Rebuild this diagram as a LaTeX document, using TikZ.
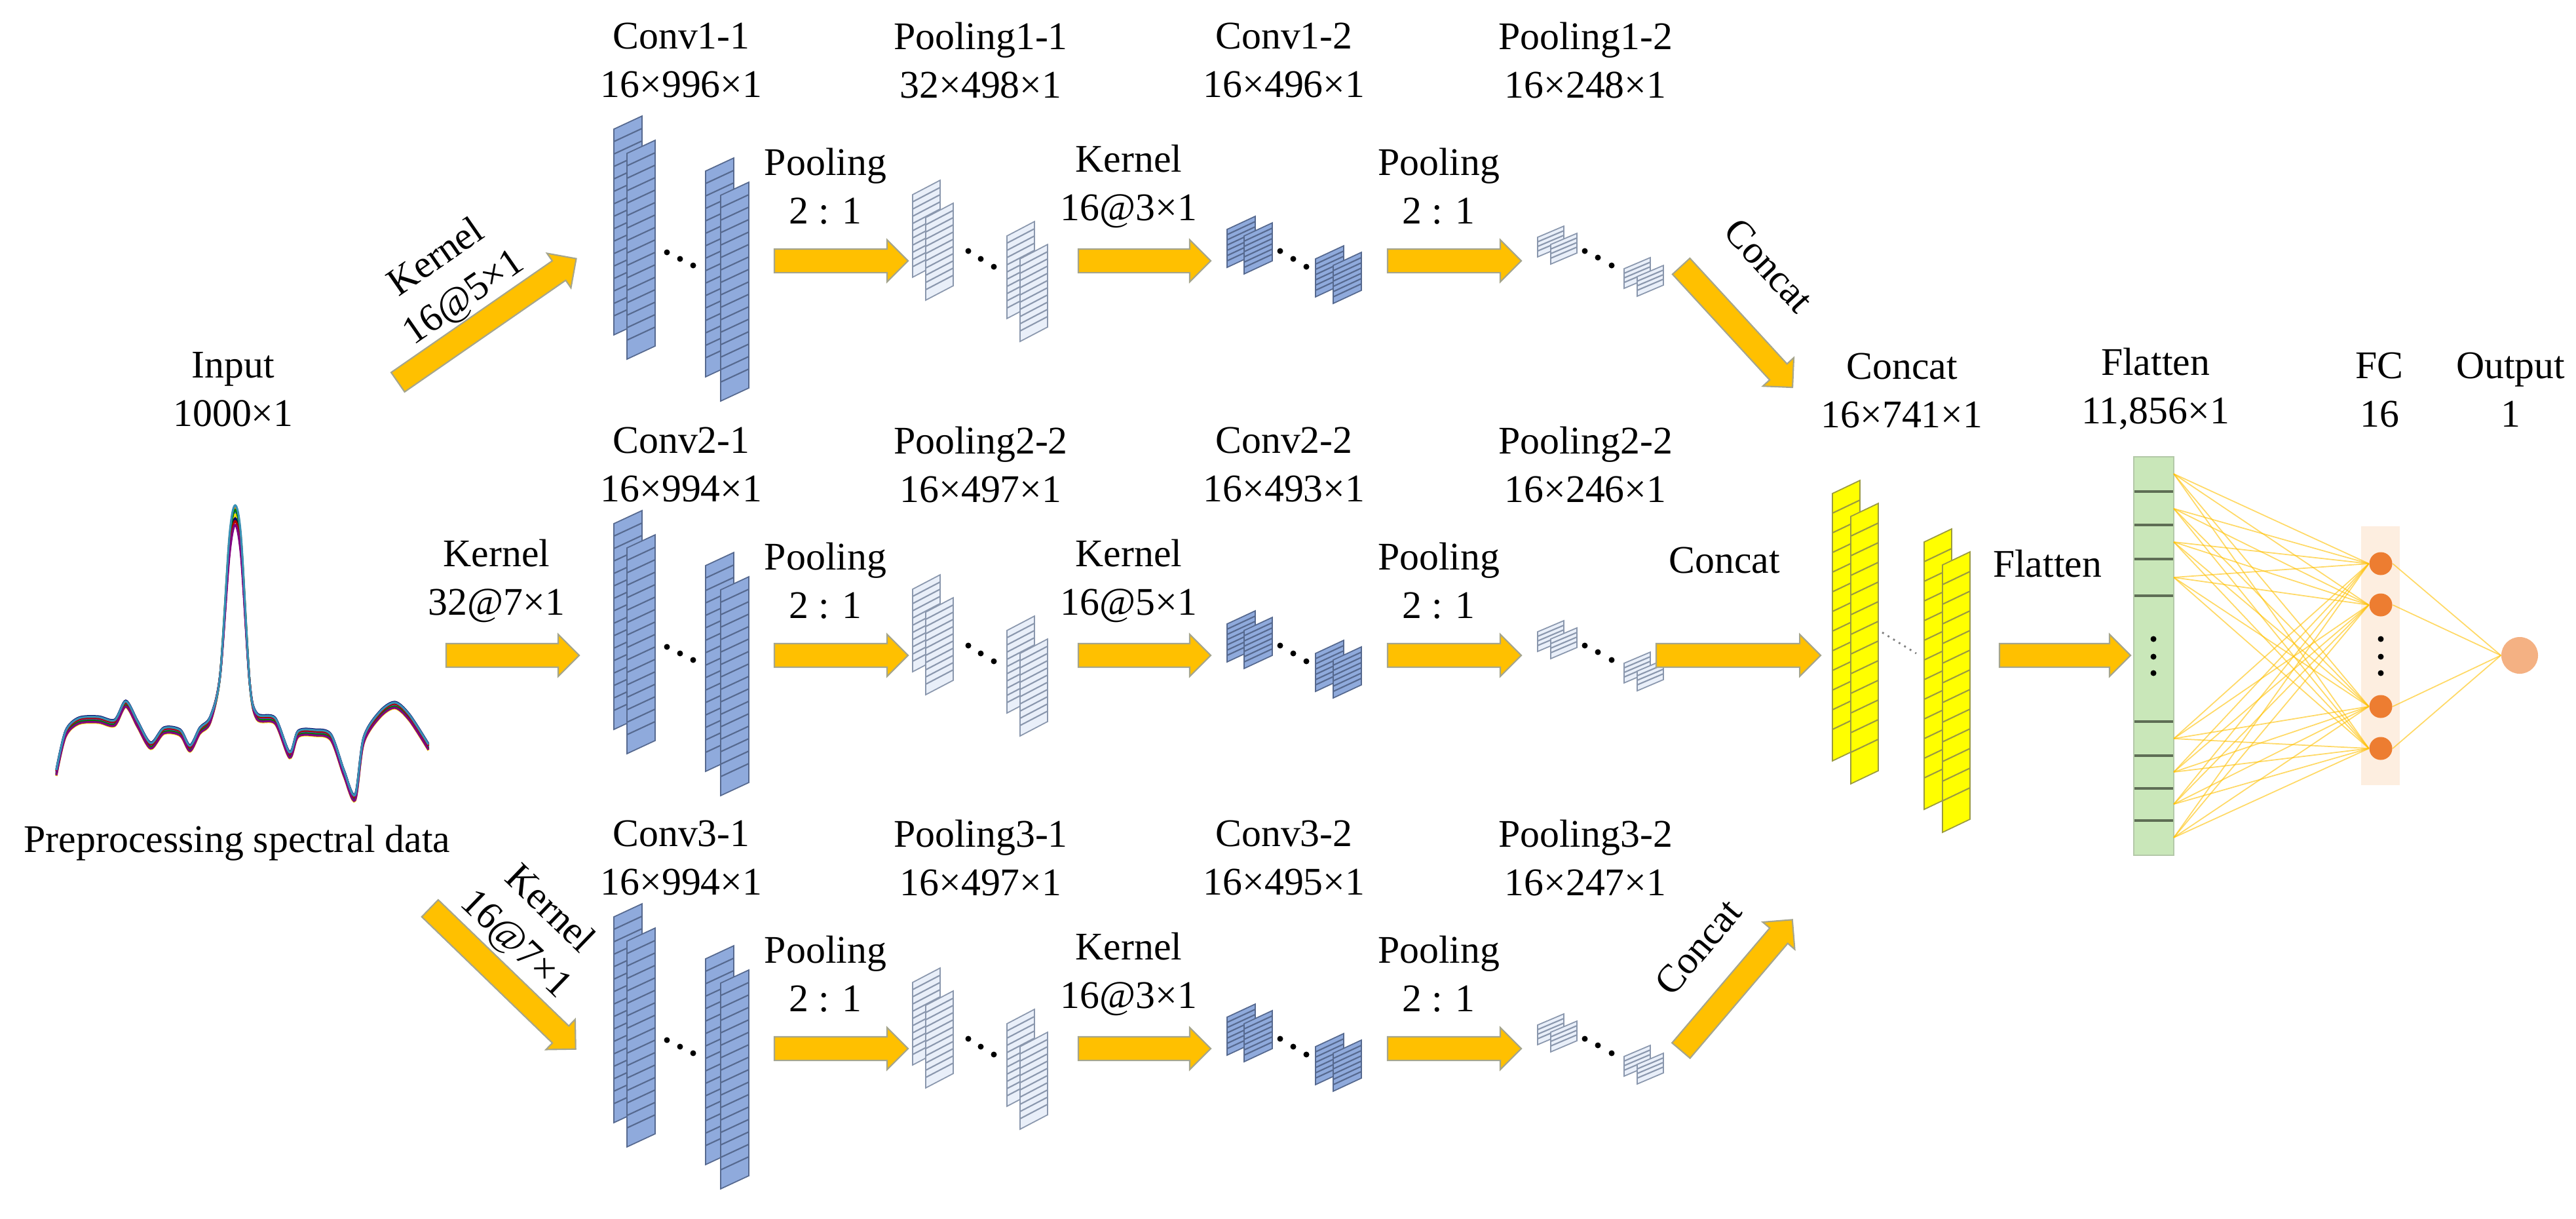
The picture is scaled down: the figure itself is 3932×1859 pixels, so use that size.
\documentclass[tikz,border=0pt]{standalone}
\usepackage{fontspec}
\setmainfont{Liberation Serif}
\usetikzlibrary{shapes.arrows,calc}
\definecolor{convfill}{HTML}{8FAADC}
\definecolor{convline}{HTML}{56698F}
\definecolor{poolfill}{HTML}{E9EFF9}
\definecolor{poolline}{HTML}{8A97AD}
\definecolor{arrowfill}{HTML}{FFC000}
\definecolor{arrowline}{HTML}{A5A58C}
\definecolor{catfill}{HTML}{FFFF00}
\definecolor{catline}{HTML}{9A9A40}
\definecolor{flatfill}{HTML}{C9E7B9}
\definecolor{flatline}{HTML}{5E6E55}
\definecolor{fcbg}{HTML}{FDEEE0}
\definecolor{fcnode}{HTML}{ED7D31}
\definecolor{outnode}{HTML}{F4B183}
\newcommand\slab[8]{%
  \filldraw[fill=#6,draw=#7,line width=0.5pt] (#1,#2+#5) -- (#1+#3,#2) -- (#1+#3,#2+#4) -- (#1,#2+#4+#5) -- cycle;
  \pgfmathtruncatemacro\nst{#4/#8-1}%
  \foreach \k in {1,...,\nst} \draw[#7,line width=0.6pt] (#1,#2+#5+\k*#8) -- (#1+#3,#2+\k*#8);
}
\newcommand\threedots[6]{%
  \fill (#1,#2) circle (4.5); \fill (#3,#4) circle (4.5); \fill (#5,#6) circle (4.5);
}
\newcommand\featrow[1]{%
  \slab{937}{#1-221}{43}{314}{20}{convfill}{convline}{19}
  \slab{957}{#1-184}{43}{314}{20}{convfill}{convline}{19}
  \slab{1077}{#1-157}{43}{314}{20}{convfill}{convline}{19}
  \slab{1100}{#1-120}{43}{314}{20}{convfill}{convline}{19}
  \threedots{1018}{#1-13}{1038}{#1-3}{1058}{#1+7}
  \slab{1393}{#1-123}{42}{126}{22}{poolfill}{poolline}{11}
  \slab{1413}{#1-88}{42}{126}{22}{poolfill}{poolline}{11}
  \slab{1537}{#1-60}{42}{126}{22}{poolfill}{poolline}{11}
  \slab{1557}{#1-25}{42}{126}{22}{poolfill}{poolline}{11}
  \threedots{1478}{#1-15}{1497}{#1-3}{1517}{#1+9}
  \slab{1873}{#1-68}{43}{58}{20}{convfill}{convline}{8}
  \slab{1899}{#1-58}{43}{58}{20}{convfill}{convline}{8}
  \slab{2008}{#1-23}{43}{58}{20}{convfill}{convline}{8}
  \slab{2035}{#1-13}{43}{58}{20}{convfill}{convline}{8}
  \threedots{1954}{#1-15}{1974}{#1-3}{1994}{#1+9}
  \slab{2347}{#1-53}{40}{30}{17}{poolfill}{poolline}{7}
  \slab{2367}{#1-42}{40}{30}{17}{poolfill}{poolline}{7}
  \slab{2479}{#1-5}{40}{30}{17}{poolfill}{poolline}{7}
  \slab{2499}{#1+7}{40}{30}{17}{poolfill}{poolline}{7}
  \threedots{2419}{#1-15}{2439}{#1-5}{2460}{#1+7}
}
\tikzset{
  barrow/.style={single arrow, draw=arrowline, fill=arrowfill, line width=0.6pt,
    inner xsep=0pt, inner ysep=0.17cm, single arrow head extend=0.14cm,
    single arrow tip angle=90, minimum height=#1, outer sep=0pt},
  lab/.style={font=\fontsize{17}{21}\selectfont, inner sep=0pt, align=center},
  conn/.style={arrowfill, opacity=0.6, line width=0.5pt},
  fcn/.style={circle, fill=fcnode, minimum size=0.35cm, inner sep=0pt},
}
\begin{document}
\begin{tikzpicture}[x=0.01cm,y=-0.01cm]
\useasboundingbox (0,0) rectangle (3932,1859);
% spectrum
\foreach \c/\d/\p in {blue!70/0/0, orange/3/-6, gray/-3/8, yellow!80!orange/5/4, blue!40!black/-5/10, green!50!black/2/-3, red!70!black/-2/14, violet/4/20, cyan!70!black/-4/-10} {
 \draw[\c, line width=0.9pt] plot[smooth, tension=0.5] coordinates {
  (86,1179+\d) (100,1120+\d) (120,1100+\d) (150,1098+\d) (175,1103+\d) (192,1074+\d) (210,1105+\d) (230,1138+\d) (250,1115+\d) (275,1118+\d) (290,1142+\d) (305,1115+\d) (321,1098+\d) (336,1030) (350,830+\p) (359,781+\p) (368,830+\p) (381,1040) (392,1093+\d) (420,1100+\d) (442,1152+\d) (455,1120+\d) (480,1118+\d) (505,1125+\d) (525,1180+\d) (542,1217+\d) (555,1130+\d) (580,1090+\d) (603,1076+\d) (625,1095+\d) (654,1140+\d)};
}
\node[lab] (inp) at (356,594) {Input\\1000×1};
\node[lab] (pre) at (362,1286) {Preprocessing spectral data};
% feature maps
\featrow{398}
\featrow{1000}
\featrow{1600}
% concat block
\slab{2797}{733}{42}{408}{20}{catfill}{catline}{30}
\slab{2825}{768}{42}{408}{20}{catfill}{catline}{30}
\slab{2937}{807}{42}{408}{20}{catfill}{catline}{30}
\slab{2965}{842}{42}{408}{20}{catfill}{catline}{30}
\draw[gray, dotted, line width=0.8pt] (2873,965) -- (2925,997);
% flatten column
\node[draw=flatfill!70!gray, fill=flatfill, line width=0.5pt, minimum width=0.61cm, minimum height=6.08cm, inner sep=0pt] (flat) at (3287.5,1001) {};
\foreach \yy in {750,801,853,909,1101,1153,1203,1252}
  \draw[flatline, line width=1.2pt] (3258,\yy) -- (3317,\yy);
\threedots{3287}{975}{3287}{1002}{3287}{1027}
% FC
\node[fill=fcbg, minimum width=0.59cm, minimum height=3.95cm, inner sep=0pt] (fcbox) at (3633.5,1000.5) {};
\node[fcn] (f1) at (3634,860) {};
\node[fcn] (f2) at (3634,923) {};
\node[fcn] (f3) at (3634,1078) {};
\node[fcn] (f4) at (3634,1142) {};
\threedots{3634}{975}{3634}{1002}{3634}{1027}
\node[circle, fill=outnode, minimum size=0.56cm, inner sep=0pt] (out) at (3846,1000) {};
\foreach \i/\yy in {1/723,2/776,3/827,4/881,5/1127,6/1178,7/1227,8/1278}
  \coordinate (fl\i) at (3318,\yy);
\foreach \i in {1,...,8} \foreach \j in {1,...,4} \draw[conn] (fl\i) -- (f\j.west);
\foreach \j in {1,...,4} \draw[conn] (f\j.east) -- (out.west);
% arrows
\node[barrow=3.31cm, rotate=34.7] (k1) at (736,494) {};
\node[barrow=2.03cm] (k2) at (773.5,1000) {};
\node[barrow=3.09cm, rotate=-44] (k3) at (761,1487) {};
\foreach \r/\A in {1/398,2/1000,3/1600} {
  \node[barrow=2.04cm] (pa\r) at (1275,\A) {};
  \node[barrow=2.02cm] (ka\r) at (1738,\A) {};
  \node[barrow=2.04cm] (pb\r) at (2211,\A) {};
}
\node[barrow=2.51cm, rotate=-47.4] (c1) at (2645,492) {};
\node[barrow=2.51cm] (c2) at (2644.5,1000) {};
\node[barrow=2.62cm, rotate=49.6] (c3) at (2645,1510) {};
\node[barrow=2.00cm] (fa) at (3143,1000) {};
% diagonal labels
\node[lab, rotate=34.7] (k1l) at (688,425) {Kernel\\16@5×1};
\node[lab, rotate=-44] (k3l) at (812,1415) {Kernel\\16@7×1};
\node[lab, rotate=-47.4] (c1l) at (2700,405) {Concat};
\node[lab, rotate=49.6] (c3l) at (2592,1445) {Concat};
% row labels
\node[lab] at (1040,92) {Conv1-1\\16×996×1};
\node[lab] at (1497,92) {Pooling1-1\\32×498×1};
\node[lab] at (1960,92) {Conv1-2\\16×496×1};
\node[lab] at (2420,92) {Pooling1-2\\16×248×1};
\node[lab] at (1040,709) {Conv2-1\\16×994×1};
\node[lab] at (1497,709) {Pooling2-2\\16×497×1};
\node[lab] at (1960,709) {Conv2-2\\16×493×1};
\node[lab] at (2420,709) {Pooling2-2\\16×246×1};
\node[lab] at (1040,1309) {Conv3-1\\16×994×1};
\node[lab] at (1497,1309) {Pooling3-1\\16×497×1};
\node[lab] at (1960,1309) {Conv3-2\\16×495×1};
\node[lab] at (2420,1309) {Pooling3-2\\16×247×1};
\node[lab] at (758,886) {Kernel\\32@7×1};
\foreach \A/\kk in {398/3, 1000/5, 1600/3} {
  \node[lab] at (1260,\A-114) {Pooling\\2 : 1};
  \node[lab] at (1723,\A-114) {Kernel\\16@\kk×1};
  \node[lab] at (2196,\A-114) {Pooling\\2 : 1};
}
\node[lab] at (2632,855) {Concat};
\node[lab] at (3125,860) {Flatten};
\node[lab] at (2903,596) {Concat\\16×741×1};
\node[lab] at (3290,593) {Flatten\\11,856×1};
\node[lab] at (3632,595) {FC\\16};
\node[lab] at (3832,595) {Output\\1};
\end{tikzpicture}
\end{document}
